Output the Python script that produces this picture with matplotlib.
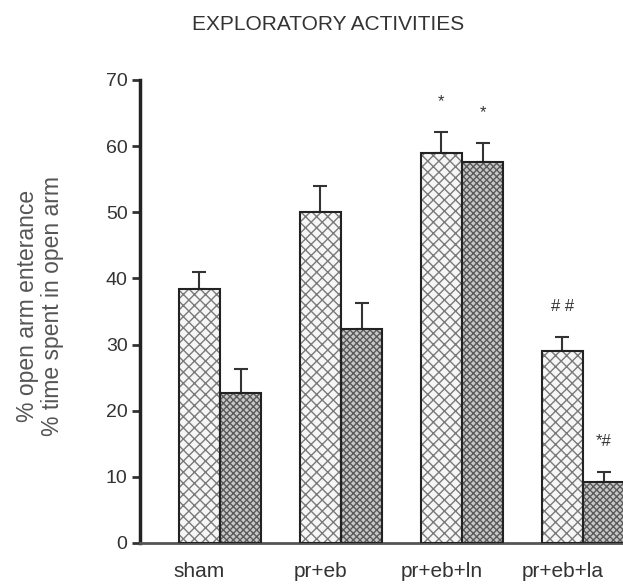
import matplotlib
matplotlib.use("Agg")
import matplotlib.pyplot as plt
import numpy as np

groups = ["sham", "pr+eb", "pr+eb+ln", "pr+eb+la"]
open_arm_entrance = [38.4, 50.1, 58.9, 29.0]
open_arm_entrance_err = [2.6, 3.9, 3.3, 2.2]
time_in_open_arm = [22.7, 32.4, 57.6, 9.2]
time_in_open_arm_err = [3.6, 3.9, 2.9, 1.5]
marks_entrance = ["", "", "*", "# #"]
marks_time = ["", "", "*", "*#"]

plt.rcParams["font.family"] = ["Liberation Sans", "DejaVu Sans"]
plt.rcParams["hatch.linewidth"] = 1.0

fig = plt.figure(figsize=(6.23, 5.85), dpi=100)
ax = fig.add_axes([0.2247, 0.0718, 0.7753, 0.7915])

x = np.arange(len(groups))
w = 0.34
x1 = x - w / 2
x2 = x + w / 2

# hatched fill, then black outline on top
ax.bar(x1, open_arm_entrance, w, color="#f6f6f6", edgecolor="#7a7a7a",
       hatch="xxx", linewidth=0, zorder=2)
ax.bar(x2, time_in_open_arm, w, color="#c8c8c8", edgecolor="#5a5a5a",
       hatch="xxxxx", linewidth=0, zorder=2)
ax.bar(x1, open_arm_entrance, w, fill=False, edgecolor="#222222",
       linewidth=1.5, zorder=3)
ax.bar(x2, time_in_open_arm, w, fill=False, edgecolor="#222222",
       linewidth=1.5, zorder=3)

zeros = [0] * len(groups)
ax.errorbar(x1, open_arm_entrance, yerr=[zeros, open_arm_entrance_err],
            fmt="none", ecolor="#333333", elinewidth=1.5, capsize=5,
            capthick=1.5, zorder=1)
ax.errorbar(x2, time_in_open_arm, yerr=[zeros, time_in_open_arm_err],
            fmt="none", ecolor="#333333", elinewidth=1.5, capsize=5,
            capthick=1.5, zorder=1)

for xi, v, e, m in zip(x1, open_arm_entrance, open_arm_entrance_err, marks_entrance):
    if m:
        ax.text(xi, v + e + 4.6, m, ha="center", va="center",
                fontsize=12, color="#333333")
for xi, v, e, m in zip(x2, time_in_open_arm, time_in_open_arm_err, marks_time):
    if m:
        ax.text(xi, v + e + 4.6, m, ha="center", va="center",
                fontsize=12, color="#333333")

ax.set_ylim(0, 70)
ax.set_xlim(-0.661, 3.33)
ax.set_yticks(range(0, 71, 10))
ax.set_xticks(x1)
ax.set_xticklabels(groups)
ax.tick_params(axis="y", direction="out", length=6, width=2,
               labelsize=14, colors="#333333", pad=3)
ax.tick_params(axis="x", length=0, labelsize=15, labelcolor="#333333", pad=14)

for side in ["top", "right"]:
    ax.spines[side].set_visible(False)
ax.spines["left"].set_linewidth(2.5)
ax.spines["left"].set_color("#222222")
ax.spines["bottom"].set_linewidth(2)
ax.spines["bottom"].set_color("#555555")

fig.text(0.064, 1 - 306 / 585, "% open arm enterance\n% time spent in open arm",
         rotation=90, ha="center", va="center", fontsize=16.5,
         color="#555555", linespacing=1.12)
fig.text(0.527, 1 - 25 / 585, "EXPLORATORY ACTIVITIES", ha="center",
         va="center", fontsize=15, color="#333333")

fig.savefig("out.png", dpi=100)
